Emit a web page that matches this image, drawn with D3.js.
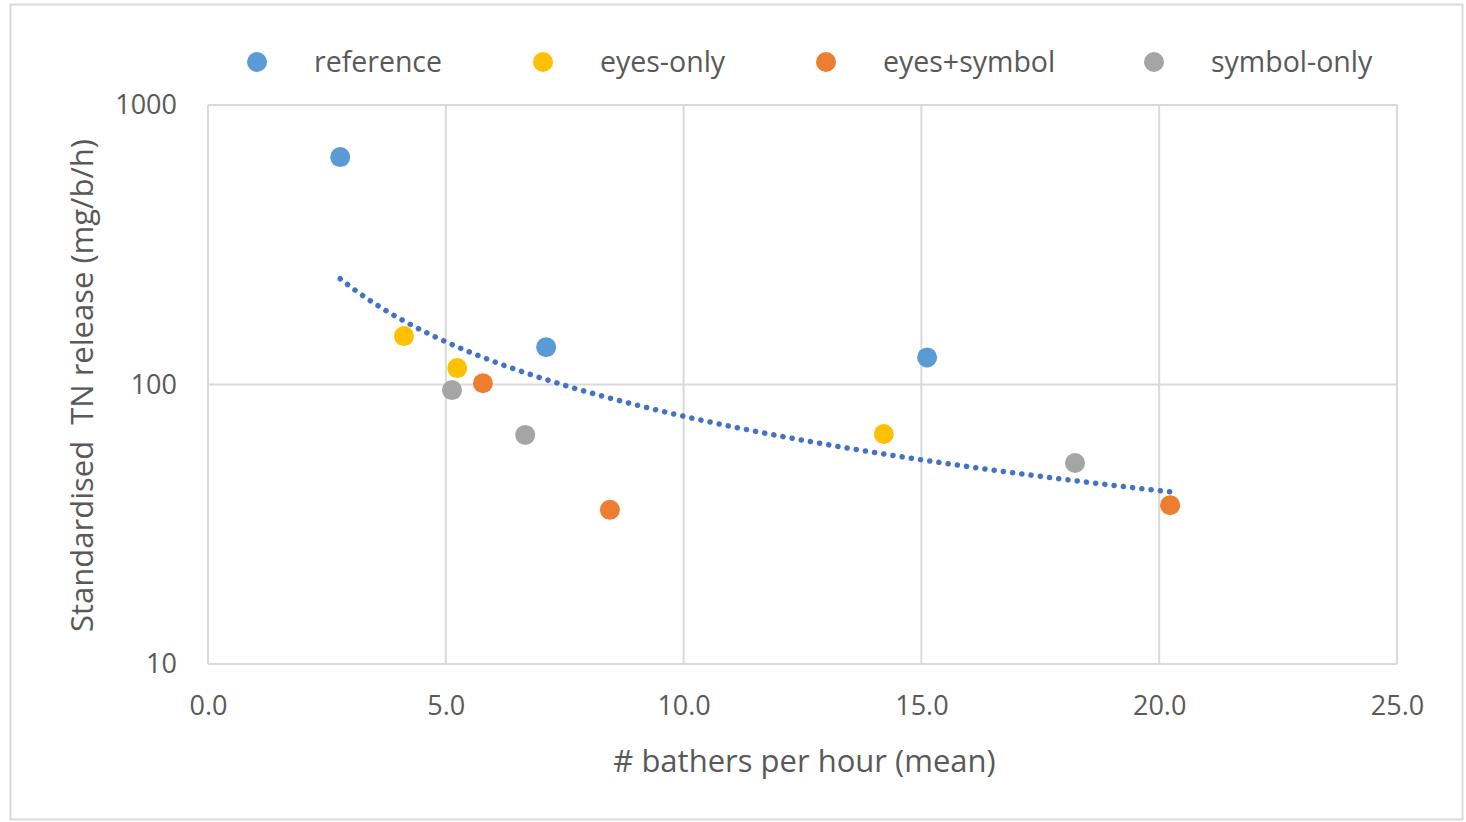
<!DOCTYPE html>
<html>
<head>
<meta charset="utf-8">
<script src="https://cdn.jsdelivr.net/npm/d3@7"></script>
<style>
  body { margin: 0; background: #fff; }
  text { font-family: "Open Sans", "Noto Sans", sans-serif; fill: #595959; }
</style>
</head>
<body>
<div class="box"></div>
<script>
// DATA
const seriesNames = ['reference', 'eyes-only', 'eyes+symbol', 'symbol-only'];
const seriesColors = ['#5B9BD5', '#FFC000', '#ED7D31', '#A5A5A5'];

const referenceX = [2.78, 7.11, 15.12];
const referenceY = [651, 136, 125];
const eyesOnlyX = [4.12, 5.24, 14.21];
const eyesOnlyY = [149, 114.5, 66.5];
const eyesSymbolX = [5.78, 8.45, 20.23];
const eyesSymbolY = [101, 35.6, 37];
const symbolOnlyX = [5.13, 6.67, 18.23];
const symbolOnlyY = [95.5, 66, 52.4];

const xTicks = [0, 5, 10, 15, 20, 25];
const yTicks = [10, 100, 1000];

const xTitle = '# bathers per hour (mean)';
const yTitle = 'Standardised  TN release (mg/b/h)';

const seriesX = [referenceX, eyesOnlyX, eyesSymbolX, symbolOnlyX];
const seriesY = [referenceY, eyesOnlyY, eyesSymbolY, symbolOnlyY];

// SETUP
const width = 1466, height = 822;
const svg = d3.select('.box')
              .append('svg')
              .attr('width', width)
              .attr('height', height)
              .style('display', 'block');

// outer chart frame
svg.append('rect')
   .attr('x', 10.5).attr('y', 4.5)
   .attr('width', 1452).attr('height', 815)
   .attr('fill', '#fff')
   .attr('stroke', '#D9D9D9')
   .attr('stroke-width', 2);

const plot = {left: 208, right: 1397, top: 105, bottom: 664};

const x = d3.scaleLinear().domain([0, 25]).range([plot.left, plot.right]);
const y = d3.scaleLog().domain([10, 1000]).range([plot.bottom, plot.top]);

// gridlines
const grid = svg.append('g');
grid.selectAll('.vgrid')
    .data(xTicks)
    .enter().append('line')
    .attr('x1', d => x(d)).attr('x2', d => x(d))
    .attr('y1', plot.top).attr('y2', plot.bottom)
    .attr('stroke', '#D9D9D9').attr('stroke-width', 2);
grid.selectAll('.hgrid')
    .data(yTicks)
    .enter().append('line')
    .attr('x1', plot.left).attr('x2', plot.right)
    .attr('y1', d => y(d)).attr('y2', d => y(d))
    .attr('stroke', '#D9D9D9').attr('stroke-width', 2);

// axes (labels only, lines come from the grid)
const axeX = d3.axisBottom(x).tickValues(xTicks).tickFormat(d3.format('.1f')).tickSize(0).tickPadding(32);
const axeY = d3.axisLeft(y).tickValues(yTicks).tickFormat(d3.format('d')).tickSize(0).tickPadding(31);

const groupeX = svg.append('g').attr('transform', `translate(0, ${plot.bottom})`).call(axeX);
const groupeY = svg.append('g').attr('transform', `translate(${plot.left}, 0)`).call(axeY);
[groupeX, groupeY].forEach(g => {
  g.select('.domain').remove();
  g.selectAll('text').style('font-size', '27px').attr('fill', '#595959');
});

// axis titles
svg.append('text')
   .attr('x', (plot.left + plot.right) / 2 + 2)
   .attr('y', 772)
   .attr('text-anchor', 'middle')
   .style('font-size', '31px')
   .text(xTitle);

svg.append('text')
   .attr('transform', `translate(93, ${(plot.top + plot.bottom) / 2 + 1}) rotate(-90)`)
   .attr('text-anchor', 'middle')
   .style('font-size', '31px')
   .style('white-space', 'pre')
   .text(yTitle);

// points
const points = seriesNames.map((name, i) => ({
  name: name,
  color: seriesColors[i],
  values: seriesX[i].map((v, j) => ({x: v, y: seriesY[i][j]}))
}));

svg.append('g')
   .selectAll('g')
   .data(points)
   .enter().append('g')
   .attr('fill', d => d.color)
   .selectAll('circle')
   .data(d => d.values)
   .enter().append('circle')
   .attr('cx', d => x(d.x))
   .attr('cy', d => y(d.y))
   .attr('r', 10);

// power trendline fitted on all points (least squares in log-log)
const all = points.flatMap(d => d.values);
const lx = all.map(d => Math.log(d.x)), ly = all.map(d => Math.log(d.y));
const mx = d3.mean(lx), my = d3.mean(ly);
const b = d3.sum(lx.map((v, i) => (v - mx) * (ly[i] - my))) / d3.sum(lx.map(v => (v - mx) ** 2));
const a = Math.exp(my - b * mx);
const [xmin, xmax] = d3.extent(all, d => d.x);
const trendX = d3.range(0, 101).map(i => xmin + (xmax - xmin) * i / 100);

svg.append('path')
   .datum(trendX)
   .attr('d', d3.line().x(d => x(d)).y(d => y(a * Math.pow(d, b))))
   .attr('fill', 'none')
   .attr('stroke', '#4472C4')
   .attr('stroke-width', 5.5)
   .attr('stroke-linecap', 'round')
   .attr('stroke-dasharray', '0.1 9.2');

// legend
const legendX = [257, 543, 826, 1154];
const legend = svg.append('g')
   .selectAll('g')
   .data(points)
   .enter().append('g')
   .attr('transform', (d, i) => `translate(${legendX[i]}, 62)`);
legend.append('circle').attr('r', 10).attr('fill', d => d.color);
legend.append('text')
      .attr('x', 57).attr('y', 10)
      .style('font-size', '28.5px')
      .text(d => d.name);
</script>
</body>
</html>
